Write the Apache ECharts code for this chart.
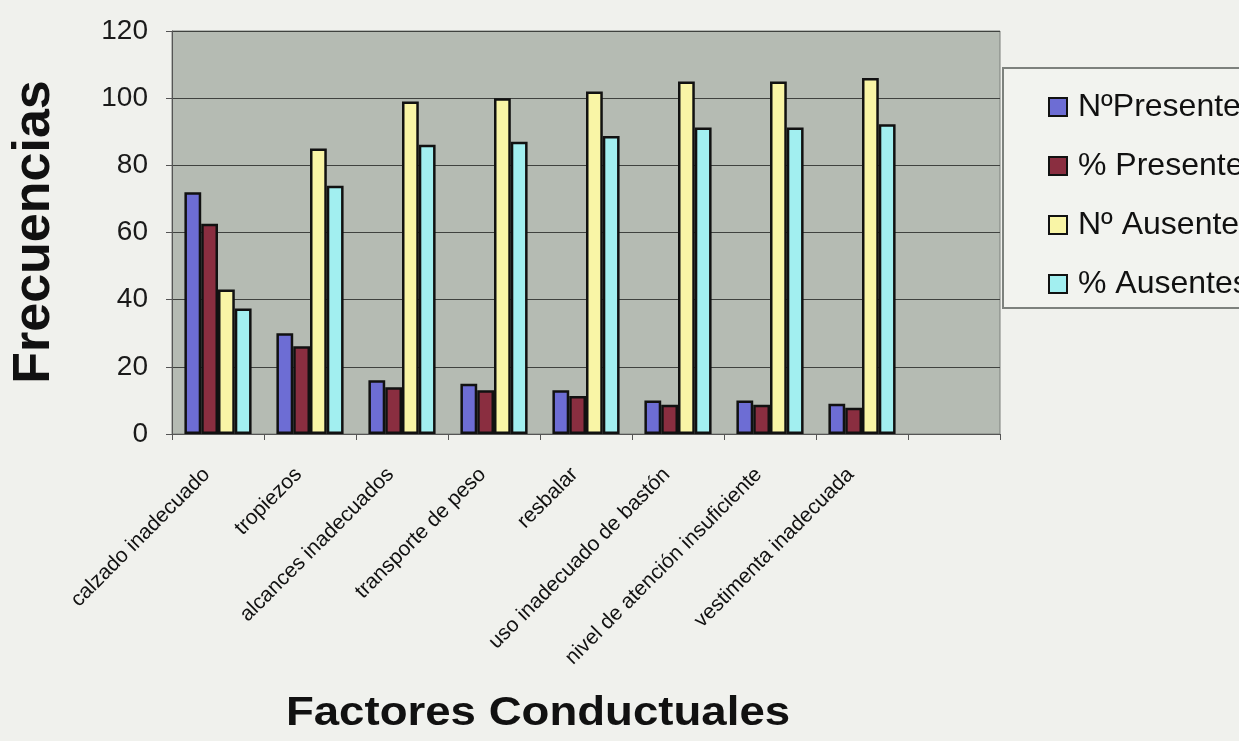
<!DOCTYPE html>
<html><head><meta charset="utf-8">
<script src="https://cdn.jsdelivr.net/npm/echarts@6/dist/echarts.min.js"></script>
<style>html,body{margin:0;padding:0;background:#f0f1ed;} #c{width:1239px;height:741px;}</style>
</head><body><div id="c"></div>
<script>
const categories = ['calzado inadecuado','tropiezos','alcances inadecuados','transporte de peso','resbalar','uso inadecuado de bastón','nivel de atención insuficiente','vestimenta inadecuada'];
const nPresentes   = [72, 30, 16, 15, 13, 10, 10, 9];
const pctPresentes = [62.6, 26.1, 13.9, 13.0, 11.3, 8.7, 8.7, 7.8];
const nAusentes    = [43, 85, 99, 100, 102, 105, 105, 106];
const pctAusentes  = [37.4, 73.9, 86.1, 87.0, 88.7, 91.3, 91.3, 92.2];
const seriesNames  = ['NºPresentes', '% Presentes', 'Nº Ausentes', '% Ausentes'];
const yMin = 0, yMax = 120, yStep = 20;

const colors = ['#6d6dd4', '#8a2e40', '#f9f5a6', '#a2eff0'];
const FONT = '"Liberation Sans", Arial, sans-serif';
const chart = echarts.init(document.getElementById('c'));
const axisCats = categories.concat(['']);
const allData = [nPresentes, pctPresentes, nAusentes, pctAusentes];

chart.setOption({
  backgroundColor: '#f0f1ed',
  animation: false,
  textStyle: { fontFamily: FONT },
  grid: { left: 172, right: 239, top: 31, bottom: 307, show: true, backgroundColor: '#b5bbb3', borderColor: '#7a7f7a', borderWidth: 1 },
  graphic: [
    { type: 'rect', z: 0, shape: { x: 1003, y: 68, width: 260, height: 240 }, style: { fill: '#f2f3ef', stroke: '#7d817d', lineWidth: 2 } },
    { type: 'text', x: 35, y: 232, rotation: Math.PI / 2, style: { text: 'Frecuencias', font: 'bold 52px ' + FONT, fill: '#111', textAlign: 'center', textVerticalAlign: 'middle' } },
    { type: 'text', x: 538, y: 714, scaleX: 1.14, style: { text: 'Factores Conductuales', font: 'bold 40px ' + FONT, fill: '#111', textAlign: 'center', textVerticalAlign: 'middle' } }
  ],
  legend: {
    orient: 'vertical', left: 1043, top: 86, itemWidth: 18, itemHeight: 18, itemGap: 27, icon: 'rect',
    data: seriesNames,
    textStyle: { fontSize: 32, lineHeight: 32, color: '#111', fontFamily: FONT, padding: [0, 0, 0, 6] }
  },
  xAxis: {
    type: 'category', data: axisCats,
    axisLine: { lineStyle: { color: '#555', width: 1 } },
    axisTick: { show: true, length: 6, lineStyle: { color: '#555' } },
    axisLabel: { rotate: 45, fontSize: 21, color: '#111', margin: 26, padding: [0, 16, 0, 0], interval: 0, fontFamily: FONT },
    splitLine: { show: false }
  },
  yAxis: {
    type: 'value', min: yMin, max: yMax, interval: yStep,
    axisLine: { show: true, lineStyle: { color: '#555', width: 1 } },
    axisTick: { show: true, length: 6, lineStyle: { color: '#555' } },
    axisLabel: { fontSize: 28, color: '#1a1a1a', margin: 24, fontFamily: FONT },
    splitLine: { lineStyle: { color: '#3f423f', width: 1 } }
  },
  series: seriesNames.map((name, i) => ({
    name, type: 'bar', data: allData[i],
    barGap: '0%', barCategoryGap: '27%',
    itemStyle: { color: colors[i], borderColor: '#111', borderWidth: 2.5 }
  }))
});
</script></body></html>
